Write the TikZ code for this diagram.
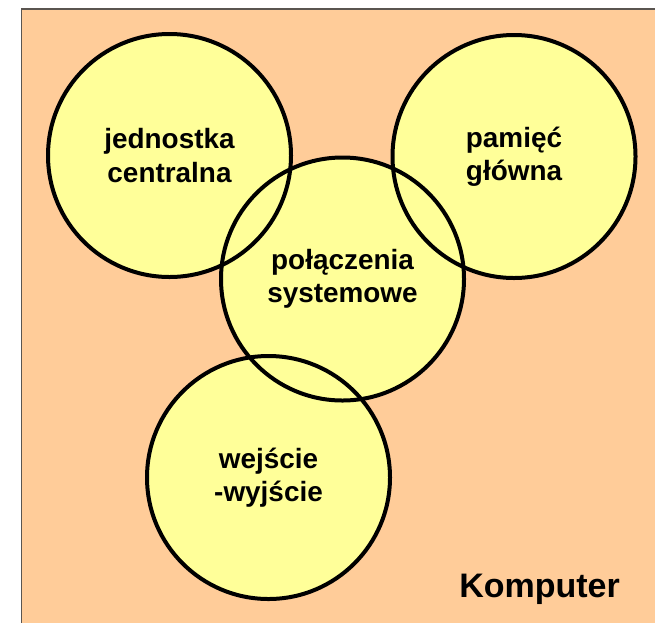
\documentclass[tikz,border=0pt]{standalone}
\usepackage{fontspec}
\setmainfont{Liberation Sans}
\definecolor{bgorange}{HTML}{FFCC99}
\definecolor{circyellow}{HTML}{FFFF99}
\definecolor{frame}{HTML}{5A5550}
\begin{document}
\begin{tikzpicture}[x=1pt,y=-1pt,
  fillcirc/.style={circle,fill=circyellow,minimum size=243pt,inner sep=0pt,
    align=center,font=\fontsize{27.9}{33.5}\selectfont\bfseries},
  outline/.style={draw=black,line width=4pt},
  title/.style={font=\fontsize{34}{40}\selectfont\bfseries,inner sep=0pt,anchor=base east}]
\useasboundingbox (0,0) rectangle (655,622);
\clip (0,0) rectangle (655,622);
\fill[bgorange] (21.5,9) rectangle (700,700);
\draw[frame,line width=1.5pt] (21.5,700) -- (21.5,9) -- (700,9);
% fills with labels
\node[fillcirc] (cpu) at (169.5,155.5) {jednostka\\centralna};
\node[fillcirc] (mem) at (514,156.5) {pamięć\\główna};
\node[fillcirc] (bus) at (342.5,279) {połączenia\\systemowe};
\node[fillcirc] (io)  at (268.5,477.5) {wejście\\-wyjście};
% outlines
\draw[outline] (cpu.center) circle[radius=121.5];
\draw[outline] (mem.center) circle[radius=121.5];
\draw[outline] (bus.center) circle[radius=121.5];
\draw[outline] (io.center) circle[radius=121.5];
\node[title] (komp) at (620,597) {Komputer};
\end{tikzpicture}
\end{document}
